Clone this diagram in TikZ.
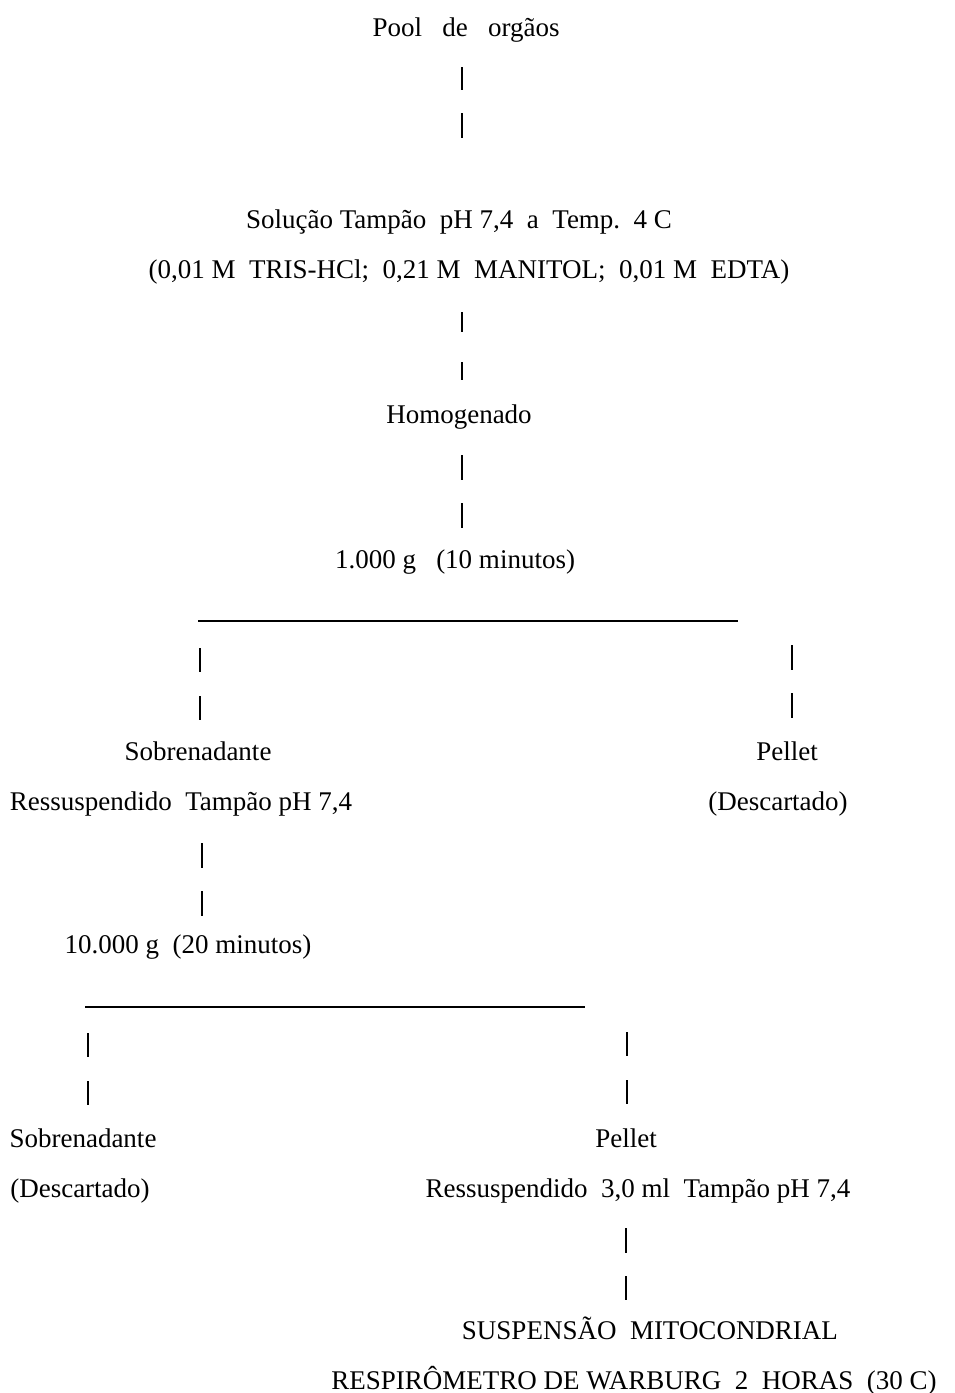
\documentclass[tikz,border=0pt]{standalone}
\usepackage{fontspec}
\setmainfont{Liberation Serif}
\begin{document}
\begin{tikzpicture}[x=1pt,y=-1pt,
  lbl/.style={inner sep=0pt, text height=0.7em, text depth=0.2em, font=\fontsize{27}{30}\selectfont},
  bar/.style={line width=1.6pt},
  rule/.style={line width=1.6pt}]
\useasboundingbox (0,0) rectangle (954,1393);
\node[lbl] (pool) at (466,34) {Pool\ \ \ de\ \ \ orgãos};
\node[lbl] (sol) at (459,226) {Solução Tampão\ \ pH 7,4\ \ a\ \ Temp.\ \ 4 C};
\node[lbl] (comp) at (469,276) {(0,01 M\ \ TRIS-HCl;\ \ 0,21 M\ \ MANITOL;\ \ 0,01 M\ \ EDTA)};
\node[lbl] (homo) at (459,421) {Homogenado};
\node[lbl] (cen1) at (455,566) {1.000 g\ \ \ (10 minutos)};
\node[lbl] (sob1) at (198,758) {Sobrenadante};
\node[lbl] (res1) at (181,808) {Ressuspendido\ \ Tampão pH 7,4};
\node[lbl] (pel1) at (787,758) {Pellet};
\node[lbl] (des1) at (778,808) {(Descartado)};
\node[lbl] (cen2) at (188,951) {10.000 g\ \ (20 minutos)};
\node[lbl] (sob2) at (83,1145) {Sobrenadante};
\node[lbl] (des2) at (80,1195) {(Descartado)};
\node[lbl] (pel2) at (626,1145) {Pellet};
\node[lbl] (res2) at (638,1195) {Ressuspendido\ \ 3,0 ml\ \ Tampão pH 7,4};
\node[lbl] (susp) at (650,1337) {SUSPENSÃO\ \ MITOCONDRIAL};
\node[lbl] (resp) at (634,1387) {RESPIRÔMETRO DE WARBURG\ \ 2\ \ HORAS\ \ (30 C)};
% bars
\foreach \n/\x/\ya/\yb in {a1/462/67/90, a2/462/113/138,
  b1/462/312/332, b2/462/362/380,
  c1/462/455/480, c2/462/503/528,
  d1/200/648/672, d2/200/696/720,
  e1/792/645/670, e2/792/693/718,
  f1/202/843/868, f2/202/891/916,
  g1/88/1033/1057, g2/88/1081/1105,
  h1/627/1032/1056, h2/627/1080/1104,
  i1/626/1228/1253, i2/626/1276/1300} {
  \coordinate (\n t) at (\x,\ya);
  \coordinate (\n b) at (\x,\yb);
  \draw[bar] (\n t) -- (\n b);
}
\coordinate (r1l) at (198,621);
\coordinate (r1r) at (738,621);
\draw[rule] (r1l) -- (r1r);
\coordinate (r2l) at (85,1007);
\coordinate (r2r) at (585,1007);
\draw[rule] (r2l) -- (r2r);
\end{tikzpicture}
\end{document}
